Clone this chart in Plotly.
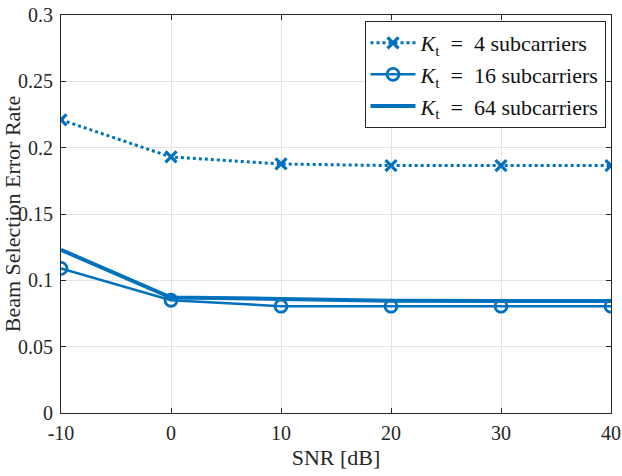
import plotly.graph_objects as go

snr = [-10, 0, 10, 20, 30, 40]
ber_k4 = [0.221, 0.193, 0.1877, 0.1865, 0.1865, 0.1865]
ber_k16 = [0.109, 0.085, 0.0805, 0.0805, 0.0805, 0.0805]
ber_k64 = [0.123, 0.087, 0.086, 0.0847, 0.0845, 0.0845]
labels = ["<i>K</i><sub>t</sub>  =  4 subcarriers",
          "<i>K</i><sub>t</sub>  =  16 subcarriers",
          "<i>K</i><sub>t</sub>  =  64 subcarriers"]
xticks = [-10, 0, 10, 20, 30, 40]
yticks = [0, 0.05, 0.1, 0.15, 0.2, 0.25, 0.3]
ytick_text = ["0", "0.05", "0.1", "0.15", "0.2", "0.25", "0.3"]

blue = "#0072BD"
font = "Liberation Serif"

fig = go.Figure()
fig.add_trace(go.Scatter(x=snr, y=ber_k4, name=labels[0].replace("  ", "&nbsp;&nbsp;"), mode="lines+markers",
                         line=dict(color=blue, width=3, dash="dot"),
                         marker=dict(symbol="x-thin", size=11, line=dict(color=blue, width=3.2))))
fig.add_trace(go.Scatter(x=snr, y=ber_k16, name=labels[1].replace("  ", "&nbsp;&nbsp;"), mode="lines+markers",
                         line=dict(color=blue, width=2.5),
                         marker=dict(symbol="circle-open", size=12, color=blue, line=dict(color=blue, width=2.8))))
fig.add_trace(go.Scatter(x=snr, y=ber_k64, name=labels[2].replace("  ", "&nbsp;&nbsp;"), mode="lines",
                         line=dict(color=blue, width=4)))

axis_common = dict(showline=True, linecolor="#262626", linewidth=1, mirror="ticks",
                   ticks="inside", ticklen=5, tickcolor="#262626", automargin=False,
                   showgrid=True, gridcolor="#e3e3e3", gridwidth=1, zeroline=False,
                   tickfont=dict(family=font, size=20, color="#262626"))

fig.update_layout(
    width=622, height=476,
    margin=dict(l=61, r=11, t=15, b=63),
    paper_bgcolor="white", plot_bgcolor="white",
    font=dict(family=font, color="#262626"),
    xaxis=dict(range=[-10, 40], tickvals=xticks, ticktext=[str(v) for v in xticks],
               ticklabelstandoff=2,
               title=dict(text="SNR [dB]", font=dict(family=font, size=22, color="#262626"), standoff=6),
               **axis_common),
    yaxis=dict(range=[0, 0.3], tickvals=yticks, ticktext=ytick_text,
               ticklabelstandoff=3,
               title=dict(text="Beam Selection Error Rate", font=dict(family=font, size=22, color="#262626"), standoff=1),
               **axis_common),
    legend=dict(x=0.99, y=0.985, xanchor="right", yanchor="top",
                bgcolor="white", bordercolor="#262626", borderwidth=1,
                font=dict(family=font, size=22, color="#111111"),
                tracegroupgap=0, itemwidth=45),
    showlegend=True,
)

fig.write_html("out.html")
